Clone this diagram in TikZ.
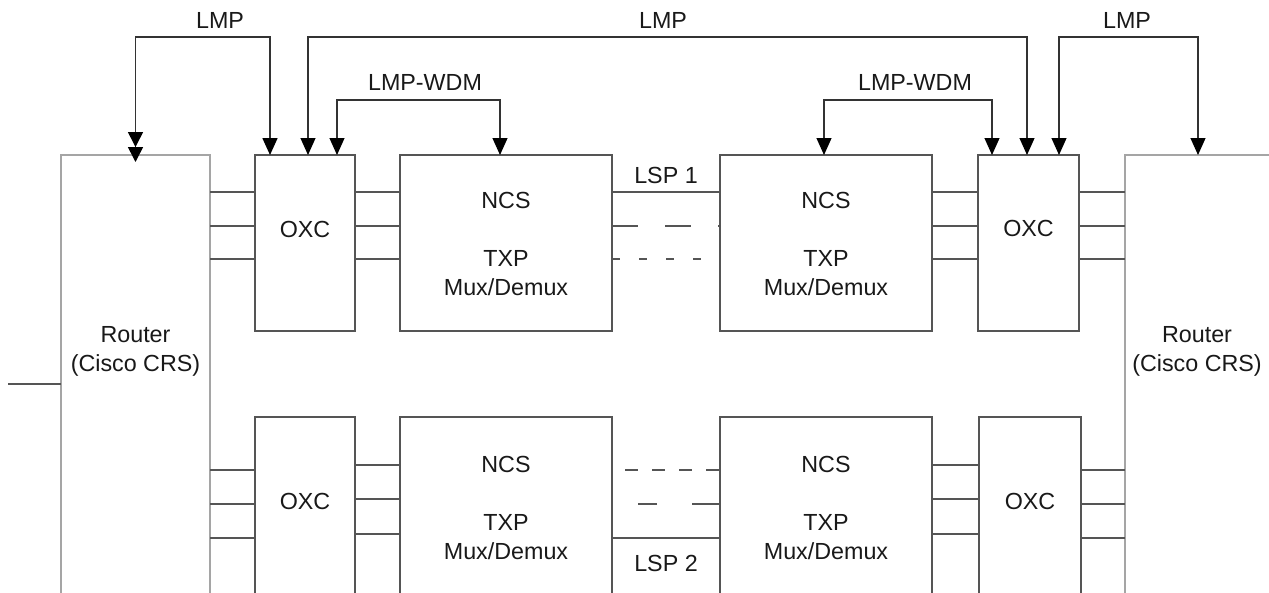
\documentclass[tikz,border=0pt]{standalone}
\usepackage{fontspec}
\setmainfont{Liberation Sans}
\usetikzlibrary{arrows.meta,calc}
\definecolor{linec}{RGB}{85,85,85}
\definecolor{routc}{RGB}{165,165,165}
\definecolor{txtc}{RGB}{25,25,25}
\begin{document}
\begin{tikzpicture}[x=1pt,y=-1pt,
  box/.style={draw=linec,line width=1.1pt,inner sep=0pt,outer sep=0pt,rectangle},
  router/.style={draw=routc,line width=2pt,inner sep=0pt,outer sep=0pt,rectangle},
  wire/.style={draw=linec,line width=1.1pt},
  lbl/.style={font=\fontsize{23.3}{28.5}\selectfont,anchor=base,inner sep=0pt,align=center,text=txtc},
  sig/.style={draw=black!80,line width=1.1pt,
    {Triangle[width=15pt,length=17pt,color=black]}-{Triangle[width=15pt,length=17pt,color=black]}},
  dsig/.style={draw=black!80,line width=1.6pt,
    {Triangle[width=15pt,length=15pt,sep=-7pt,color=black]Triangle[width=15pt,length=15pt,color=black]}-{Triangle[width=15pt,length=17pt,color=black]}},
]
\useasboundingbox (0,0) rectangle (1269,592);
\clip (0,0) rectangle (1269,592);
\fill[white] (0,0) rectangle (1269,592);

% routers (open at picture edges)
\node[router,minimum width=149pt,minimum height=485pt] (rL) at (135.5,397.5) {};
\node[router,minimum width=275pt,minimum height=485pt] (rR) at (1262.5,397.5) {};
\coordinate (inL) at (8,384);
\draw[wire] (inL) -- (rL.west |- inL);

% top row
\node[box,minimum width=100pt,minimum height=176pt] (oxcTL) at (305,243) {};
\node[box,minimum width=212pt,minimum height=176pt] (ncsTL) at (506,243) {};
\node[box,minimum width=212pt,minimum height=176pt] (ncsTR) at (826,243) {};
\node[box,minimum width=101pt,minimum height=176pt] (oxcTR) at (1028.5,243) {};

% bottom row (open at the bottom edge)
\node[box,minimum width=100pt,minimum height=223pt] (oxcBL) at (305,528.5) {};
\node[box,minimum width=212pt,minimum height=223pt] (ncsBL) at (506,528.5) {};
\node[box,minimum width=212pt,minimum height=223pt] (ncsBR) at (826,528.5) {};
\node[box,minimum width=102pt,minimum height=223pt] (oxcBR) at (1030,528.5) {};

% labels (multi-line: base = last line)
\node[lbl] (tRL) at (135.5,371) {Router\\(Cisco CRS)};
\node[lbl] (tRR) at (1197,371) {Router\\(Cisco CRS)};
\node[lbl] (tOTL) at (305,237) {OXC};
\node[lbl] (tOTR) at (1028.5,236) {OXC};
\node[lbl] (tOBL) at (305,509) {OXC};
\node[lbl] (tOBR) at (1030,509) {OXC};
\node[lbl] (tNTL) at (506,208) {NCS};
\node[lbl] (tXTL) at (506,295) {TXP\\Mux/Demux};
\node[lbl] (tNTR) at (826,208) {NCS};
\node[lbl] (tXTR) at (826,295) {TXP\\Mux/Demux};
\node[lbl] (tNBL) at (506,472) {NCS};
\node[lbl] (tXBL) at (506,559) {TXP\\Mux/Demux};
\node[lbl] (tNBR) at (826,472) {NCS};
\node[lbl] (tXBR) at (826,559) {TXP\\Mux/Demux};
\node[lbl] (lsp1) at (666,183) {LSP 1};
\node[lbl] (lsp2) at (666,571) {LSP 2};
\node[lbl] (lmp1) at (220,28) {LMP};
\node[lbl] (lmp2) at (663,28) {LMP};
\node[lbl] (lmp3) at (1127,28) {LMP};
\node[lbl] (wdm1) at (425,90) {LMP-WDM};
\node[lbl] (wdm2) at (915,90) {LMP-WDM};

% top row links
\foreach \y in {192,226,259}{
  \draw[wire] (rL.east |- 0,\y) -- (oxcTL.west |- 0,\y);
  \draw[wire] (oxcTL.east |- 0,\y) -- (ncsTL.west |- 0,\y);
  \draw[wire] (ncsTR.east |- 0,\y) -- (oxcTR.west |- 0,\y);
  \draw[wire] (oxcTR.east |- 0,\y) -- (rR.west |- 0,\y);
}
\draw[wire] (ncsTL.east |- 0,192) -- (ncsTR.west |- 0,192);
\draw[wire,dash pattern=on 26pt off 27pt] (ncsTL.east |- 0,226) -- (ncsTR.west |- 0,226);
\draw[wire,dash pattern=on 8pt off 19pt] (ncsTL.east |- 0,259) -- (ncsTR.west |- 0,259);

% bottom row links
\foreach \y in {470,504,538}{
  \draw[wire] (rL.east |- 0,\y) -- (oxcBL.west |- 0,\y);
  \draw[wire] (oxcBR.east |- 0,\y) -- (rR.west |- 0,\y);
}
\foreach \y in {465,499,534}{
  \draw[wire] (oxcBL.east |- 0,\y) -- (ncsBL.west |- 0,\y);
  \draw[wire] (ncsBR.east |- 0,\y) -- (oxcBR.west |- 0,\y);
}
\draw[wire,dash pattern=on 13pt off 14pt,dash phase=14pt] (ncsBL.east |- 0,470) -- (ncsBR.west |- 0,470);
\draw[wire,dash pattern=on 28pt off 35pt on 19pt off 30pt] (ncsBR.west |- 0,504) -- (ncsBL.east |- 0,504);
\draw[wire] (ncsBL.east |- 0,538) -- (ncsBR.west |- 0,538);

% signalling arrows
\draw[dsig] (rL.north) -- (rL.north |- 0,37) -| (oxcTL.north -| 270,0);
\draw[sig] (oxcTL.north -| 308,0) -- (308,37) -| (oxcTR.north -| 1027,0);
\draw[sig] (oxcTR.north -| 1059,0) -- (1059,37) -| (rR.north -| 1198,0);
\draw[sig] (oxcTL.north -| 337,0) -- (337,100) -| (ncsTL.north -| 500,0);
\draw[sig] (ncsTR.north -| 824,0) -- (824,100) -| (oxcTR.north -| 992,0);
\end{tikzpicture}
\end{document}
